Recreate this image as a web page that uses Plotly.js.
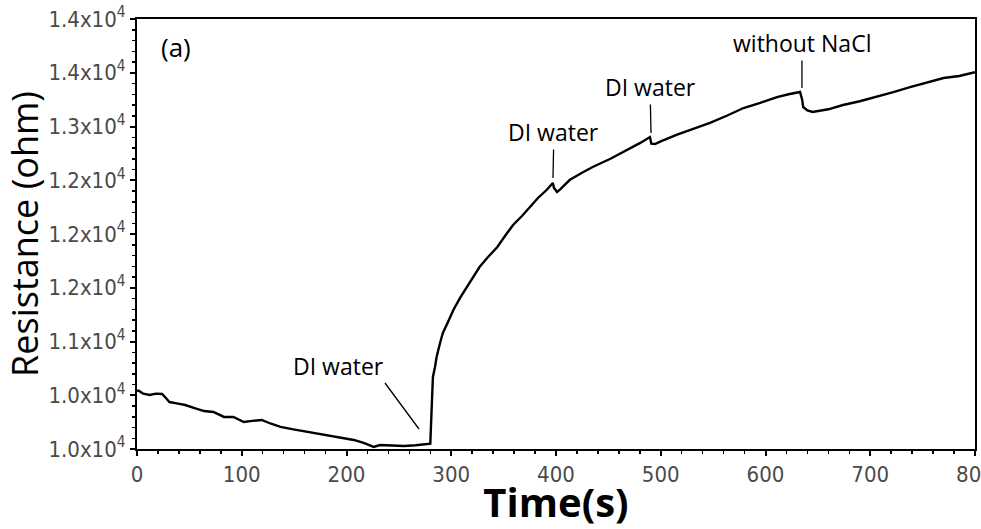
<!DOCTYPE html>
<html>
<head>
<meta charset="utf-8">
<script src="https://cdn.plot.ly/plotly-3.0.1.min.js"></script>
<style>html,body{margin:0;padding:0;background:#fff;}#chart{width:981px;height:529px;}</style>
</head>
<body>
<div id="chart"></div>
<script>
const timeS = [0, 2, 6, 12, 18, 24, 28, 31, 38, 46, 55, 64, 73, 83, 92, 102, 110, 119, 128, 137, 148, 159, 171, 184, 196, 207, 217, 226, 232, 243, 255, 266, 277, 280, 281.5, 282.5, 284.5, 286, 289.3, 292, 296.9, 302, 308.4, 315, 320.8, 327, 335.1, 344, 351.3, 359, 367.5, 375, 382.8, 391, 397, 398, 401, 404, 413, 424, 435, 452, 468, 480, 489.7, 491, 494.5, 500, 515, 531, 547, 563, 579, 595, 611, 622, 633, 635, 636, 640, 645, 660, 674, 690, 706, 722, 738, 754, 770, 785, 800];
const resistance = [10545, 10540, 10515, 10502, 10515, 10512, 10470, 10437, 10425, 10409, 10380, 10353, 10344, 10298, 10298, 10251, 10262, 10270, 10235, 10205, 10185, 10167, 10148, 10121, 10105, 10084, 10055, 10019, 10037, 10030, 10028, 10035, 10047, 10050, 10428, 10670, 10763, 10856, 10986, 11079, 11181, 11293, 11405, 11507, 11600, 11693, 11786, 11879, 11981, 12084, 12167, 12251, 12335, 12409, 12474, 12430, 12391, 12415, 12502, 12565, 12623, 12700, 12781, 12845, 12902, 12840, 12837, 12862, 12921, 12978, 13033, 13100, 13172, 13220, 13274, 13300, 13321, 13250, 13181, 13150, 13135, 13160, 13200, 13235, 13274, 13320, 13367, 13410, 13451, 13470, 13505];

const yTickVals = [10000, 10500, 11000, 11500, 12000, 12500, 13000, 13500, 14000];
const yTickText = ['1.0x10<sup>4</sup>', '1.0x10<sup>4</sup>', '1.1x10<sup>4</sup>', '1.2x10<sup>4</sup>', '1.2x10<sup>4</sup>', '1.2x10<sup>4</sup>', '1.3x10<sup>4</sup>', '1.4x10<sup>4</sup>', '1.4x10<sup>4</sup>'];

const noteText = ['DI water', 'DI water', 'DI water', 'without NaCl'];
const noteX = [269.2, 397.1, 490.7, 634.8];
const noteY = [10186, 12521, 12940, 13358];

const tickFont = {family: '"DejaVu Sans Condensed", "Liberation Sans Narrow", sans-serif', size: 22, color: '#4a4a4a'};
const labelFont = {family: '"Open Sans", "Noto Sans", sans-serif', size: 23, color: '#000'};

const annotations = [
  {x: noteX[0], y: noteY[0], xref: 'x', yref: 'y', text: noteText[0], showarrow: true, arrowhead: 0, arrowwidth: 1.3, arrowcolor: '#000', ax: -34, ay: -46, xanchor: 'right', yanchor: 'bottom', font: labelFont, borderpad: 0},
  {x: noteX[1], y: noteY[1], xref: 'x', yref: 'y', text: noteText[1], showarrow: true, arrowhead: 0, arrowwidth: 1.3, arrowcolor: '#000', ax: 1, ay: -46, font: labelFont},
  {x: noteX[2], y: noteY[2], xref: 'x', yref: 'y', text: noteText[2], showarrow: true, arrowhead: 0, arrowwidth: 1.3, arrowcolor: '#000', ax: -1, ay: -46, font: labelFont},
  {x: noteX[3], y: noteY[3], xref: 'x', yref: 'y', text: noteText[3], showarrow: true, arrowhead: 0, arrowwidth: 1.3, arrowcolor: '#000', ax: 0, ay: -45, font: labelFont},
  {x: 0.0465, y: 0.935, xref: 'paper', yref: 'paper', xanchor: 'center', yanchor: 'middle', text: '(a)', showarrow: false, font: {family: '"Open Sans", sans-serif', size: 26, color: '#000'}}
];

const trace = {x: timeS, y: resistance, type: 'scatter', mode: 'lines', line: {color: '#000', width: 2.4}, hoverinfo: 'skip'};

const layout = {
  width: 981, height: 529,
  margin: {l: 137, r: 6, t: 19, b: 80},
  paper_bgcolor: '#fff', plot_bgcolor: '#fff',
  showlegend: false,
  xaxis: {
    range: [0, 800], tickmode: 'linear', tick0: 0, dtick: 100,
    ticks: 'outside', ticklen: 5, tickwidth: 2, tickcolor: '#000',
    minor: {tickmode: 'linear', tick0: 0, dtick: 20, ticks: 'outside', ticklen: 3, tickwidth: 1.5, tickcolor: '#000', showgrid: false},
    showgrid: false, zeroline: false, showline: true, linecolor: '#000', linewidth: 2, mirror: true,
    tickfont: tickFont, ticklabeloverflow: 'allow',
    title: {text: '<b>Time(s)</b>', font: {family: '"Open Sans", "Noto Sans", sans-serif', size: 40, color: '#000'}, standoff: 4}
  },
  yaxis: {
    range: [10000, 14000], tickmode: 'array', tickvals: yTickVals, ticktext: yTickText,
    ticks: 'outside', ticklen: 5, tickwidth: 2, tickcolor: '#000',
    minor: {tickmode: 'linear', tick0: 10000, dtick: 100, ticks: 'outside', ticklen: 3, tickwidth: 1.5, tickcolor: '#000', showgrid: false},
    showgrid: false, zeroline: false, showline: true, linecolor: '#000', linewidth: 2, mirror: true,
    tickfont: tickFont,
    title: {text: 'Resistance (ohm)', font: {family: '"Open Sans", "Noto Sans", sans-serif', size: 36, color: '#000'}, standoff: 4}
  },
  annotations: annotations
};

Plotly.newPlot('chart', [trace], layout, {displayModeBar: false, staticPlot: true});
</script>
</body>
</html>
